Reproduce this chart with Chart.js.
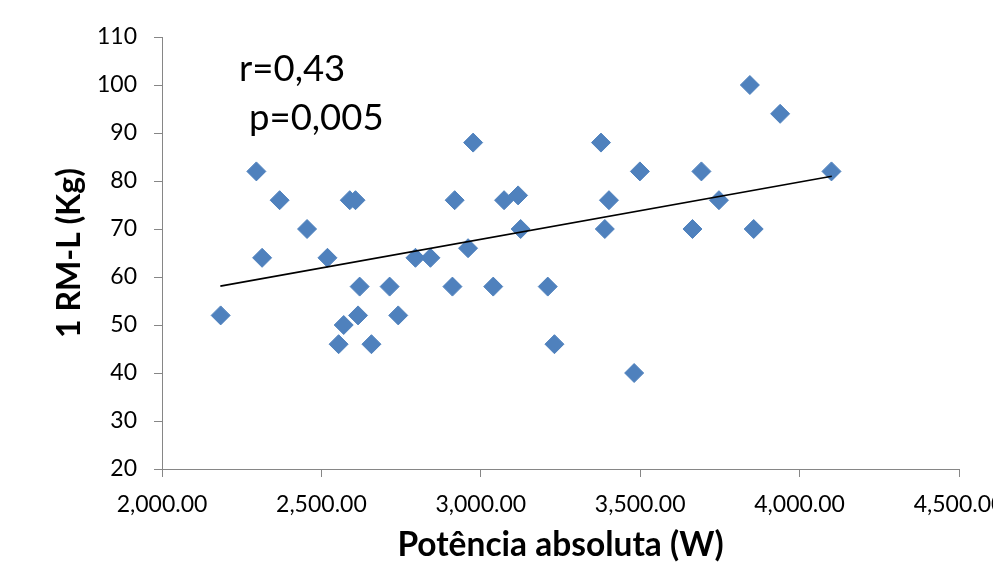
<!DOCTYPE html>
<html>
<head>
<meta charset="utf-8">
<script src="https://cdn.jsdelivr.net/npm/chart.js@4.4.0/dist/chart.umd.min.js"></script>
<style>
  html, body { margin: 0; padding: 0; background: #fff; overflow: hidden; }
  #wrap { width: 993px; height: 565px; overflow: hidden; }
</style>
</head>
<body>
<div id="wrap"><canvas id="chart" width="1040" height="565"></canvas></div>
<script>
// ── data ──
const potencia = [2184, 2296, 2314, 2369, 2455, 2519, 2554, 2570, 2589, 2607, 2615, 2620, 2657,
    2714, 2741, 2795, 2842, 2911, 2918, 2960, 2976, 3039, 3073, 3117, 3125, 3210, 3231,
    3377, 3389, 3402, 3481, 3499, 3664, 3692, 3747, 3844, 3856, 3939, 4100];
const rmL = [52, 82, 64, 76, 70, 64, 46, 50, 76, 76, 52, 58, 46,
    58, 52, 64, 64, 58, 76, 66, 88, 58, 76, 77, 70, 58, 46,
    88, 70, 76, 40, 82, 70, 82, 76, 100, 70, 94, 82];

// linear trend line end points
const trendX = [2183, 4101];
const trendY = [58.1, 81.0];

const xTicks = [2000, 2500, 3000, 3500, 4000, 4500];
const xTickLabels = ['2,000.00', '2,500.00', '3,000.00', '3,500.00', '4,000.00', '4,500.00'];
const yTicks = [20, 30, 40, 50, 60, 70, 80, 90, 100, 110];

const notes = ['r=0,43', 'p=0,005'];

const AXIS = '#868686';
const BLUE = '#4f81bd';
const FONT = 'Lato, "Open Sans", sans-serif';

// r / p annotation
const notesPlugin = {
    id: 'notes',
    afterDraw: (chart) => {
        const ctx = chart.ctx;
        ctx.save();
        ctx.fillStyle = '#000';
        ctx.font = '36.5px ' + FONT;
        ctx.textBaseline = 'alphabetic';
        ctx.fillText(notes[0], 239, 81);
        ctx.fillText(notes[1], 249, 130);
        ctx.restore();
    }
};

new Chart(document.getElementById('chart'), {
    type: 'scatter',
    data: {
        datasets: [
            {
                label: 'Tendência',
                type: 'line',
                data: trendX.map((x, i) => ({x, y: trendY[i]})),
                borderColor: '#000', borderWidth: 1.6,
                pointRadius: 0, fill: false, tension: 0
            },
            {
                label: '1 RM-L',
                data: potencia.map((x, i) => ({x, y: rmL[i]})),
                pointStyle: 'rectRot', pointRadius: 9.5,
                backgroundColor: BLUE, borderColor: BLUE, borderWidth: 1
            }
        ]
    },
    options: {
        responsive: false, animation: false,
        layout: {padding: {left: 0, right: 81, top: 37, bottom: 0}},
        plugins: {legend: {display: false}, tooltip: {enabled: false}},
        scales: {
            x: {
                type: 'linear', min: 2000, max: 4500,
                afterBuildTicks: s => { s.ticks = xTicks.map(v => ({value: v})); },
                afterFit: s => { s.height = 96; },
                ticks: {
                    color: '#000', font: {family: FONT, size: 23}, padding: 14,
                    maxRotation: 0, autoSkip: false,
                    callback: (v, i) => xTickLabels[i]
                },
                grid: {drawOnChartArea: false, drawTicks: true, tickLength: 8, color: AXIS},
                border: {display: true, color: AXIS, width: 1},
                title: {
                    display: true, text: 'Potência absoluta (W)', color: '#000',
                    font: {family: FONT, size: 33.5, weight: 'bold'}, padding: {top: 0, bottom: 0}
                }
            },
            y: {
                min: 20, max: 110,
                afterBuildTicks: s => { s.ticks = yTicks.map(v => ({value: v})); },
                afterFit: s => { s.width = 162; },
                ticks: {
                    color: '#000', font: {family: FONT, size: 23}, padding: 17,
                    callback: v => String(v)
                },
                grid: {drawOnChartArea: false, drawTicks: true, tickLength: 8, color: AXIS},
                border: {display: true, color: AXIS, width: 1},
                title: {
                    display: true, text: '1 RM-L (Kg)', color: '#000',
                    font: {family: FONT, size: 32, weight: 'bold'}, padding: {top: 50, bottom: 0}
                }
            }
        }
    },
    plugins: [notesPlugin]
});
</script>
</body>
</html>
